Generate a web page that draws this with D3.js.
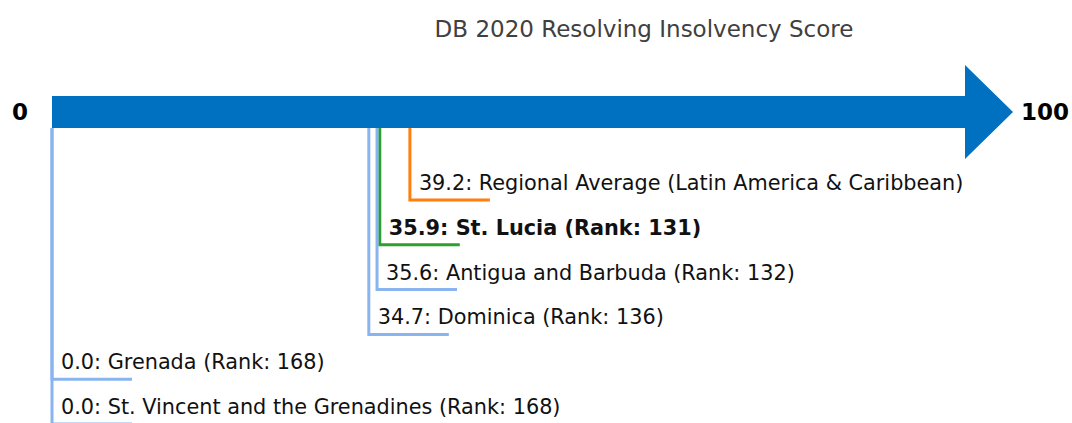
<!DOCTYPE html>
<html>
<head>
<meta charset="utf-8">
<script src="https://cdn.jsdelivr.net/npm/d3@7"></script>
<style>
  body { margin: 0; background: #fff; }
  svg text { font-family: "DejaVu Sans", sans-serif; }
</style>
</head>
<body>
<div id="plot"></div>
<script>
var labels = ['39.2: Regional Average (Latin America & Caribbean)',
              '35.9: St. Lucia (Rank: 131)',
              '35.6: Antigua and Barbuda (Rank: 132)',
              '34.7: Dominica (Rank: 136)',
              '0.0: Grenada (Rank: 168)',
              '0.0: St. Vincent and the Grenadines (Rank: 168)'];
var scores = [39.2, 35.9, 35.6, 34.7, 0.0, 0.0];
var kinds = ['region', 'focus', 'other', 'other', 'other', 'other'];
var ends = [0, 100];

var colors = { region: '#ff7f0e', focus: '#2ca02c', other: '#8ab4f0' };

var w = 1072, h = 423;

var svg = d3.select('#plot').append('svg')
  .attr('width', w)
  .attr('height', h);

var x = d3.scaleLinear().domain([0, 100]).range([52, 965]);
var y = d3.scaleLinear().domain([0, labels.length - 1]).range([200, 424]);

var barTop = 96, barBot = 128;

// title
svg.append('text')
  .attr('x', 644)
  .attr('y', 37)
  .attr('text-anchor', 'middle')
  .attr('font-size', 23)
  .attr('fill', '#404040')
  .text('DB 2020 Resolving Insolvency Score');

// leader lines, drawn under the arrow
var g = svg.append('g');
labels.forEach(function(l, i) {
  var c = colors[kinds[i]];
  var px = x(scores[i]), py = y(i);
  g.append('path')
    .attr('d', 'M' + px + ',' + barBot + 'V' + py + 'H' + (px + 80))
    .attr('fill', 'none')
    .attr('stroke', c)
    .attr('stroke-width', 3);
  g.append('text')
    .attr('x', px + 9)
    .attr('y', py - 10)
    .attr('font-size', 20.8)
    .attr('font-weight', kinds[i] == 'focus' ? 'bold' : 'normal')
    .attr('fill', '#111')
    .text(l);
});

// arrow
svg.append('path')
  .attr('d', 'M' + x(0) + ',' + barTop + 'H' + x(100) + 'V65L1013,112L' + x(100) + ',159V' + barBot + 'H' + x(0) + 'Z')
  .attr('fill', '#0070c0');

// end labels
svg.append('text')
  .attr('x', 20).attr('y', 120)
  .attr('text-anchor', 'middle')
  .attr('font-size', 23).attr('font-weight', 'bold')
  .text(ends[0]);

svg.append('text')
  .attr('x', 1021).attr('y', 120)
  .attr('font-size', 23).attr('font-weight', 'bold')
  .text(ends[1]);
</script>
</body>
</html>
